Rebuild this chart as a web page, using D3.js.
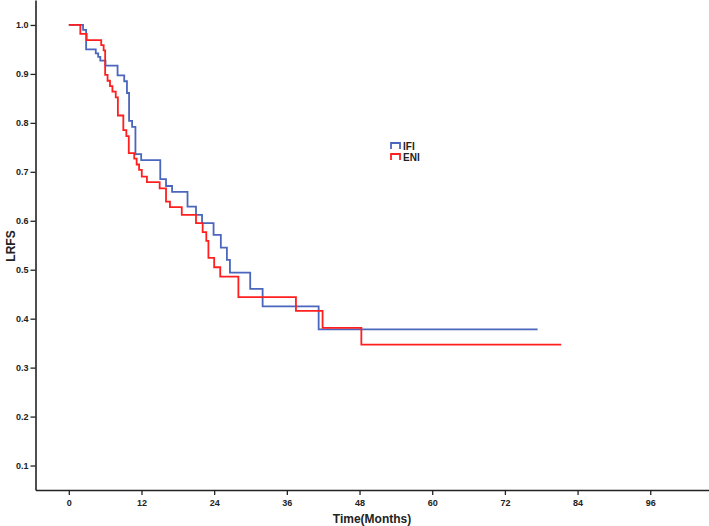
<!DOCTYPE html>
<html>
<head>
<meta charset="utf-8">
<script src="https://cdn.jsdelivr.net/npm/d3@7"></script>
<style>
  html, body { margin: 0; padding: 0; background: #fff; }
  svg { display: block; }
  text { font-family: "Liberation Sans", Arial, sans-serif; }
</style>
</head>
<body>
<svg id="chart" width="709" height="526"></svg>
<script>
// ---- Data ----
const seriesNames = ["IFI", "ENI"];
const ifiTimes = [0, 2.35, 2.86, 4.45, 4.85, 5.2, 6.05, 8.05, 9.15, 9.6, 9.95, 10.45, 11.0, 11.95, 15.1, 16.05, 17.05, 19.6, 21.0, 22.0, 23.9, 25.1, 26.1, 26.6, 29.95, 32.0, 41.25, 77.4];
const ifiSurv  = [1.0, 0.99, 0.95, 0.942, 0.935, 0.927, 0.917, 0.897, 0.885, 0.861, 0.804, 0.792, 0.736, 0.724, 0.685, 0.671, 0.659, 0.629, 0.612, 0.595, 0.571, 0.545, 0.520, 0.494, 0.461, 0.425, 0.378, 0.378];
const eniTimes = [0, 1.9, 2.95, 5.35, 5.75, 6.0, 6.4, 6.8, 7.2, 7.75, 8.1, 9.0, 9.5, 9.9, 10.8, 11.2, 11.6, 12.05, 12.9, 15.0, 16.05, 16.7, 18.65, 21.0, 22.1, 22.7, 23.05, 24.0, 25.0, 28.0, 37.5, 41.9, 48.3, 81.3];
const eniSurv  = [1.0, 0.982, 0.969, 0.959, 0.948, 0.898, 0.886, 0.875, 0.864, 0.852, 0.815, 0.785, 0.773, 0.738, 0.727, 0.715, 0.704, 0.690, 0.679, 0.666, 0.639, 0.628, 0.612, 0.595, 0.577, 0.559, 0.524, 0.505, 0.486, 0.444, 0.416, 0.381, 0.347, 0.347];
const xTicks = [0, 12, 24, 36, 48, 60, 72, 84, 96];
const yTicks = [0.1, 0.2, 0.3, 0.4, 0.5, 0.6, 0.7, 0.8, 0.9, 1.0];
const colors = ["#4a66bd", "#ff1f1f"];

// ---- Layout ----
const svg = d3.select("#chart");
const plotLeft = 35.5, plotRight = 709, plotTop = 0, plotBottom = 490;

const x = d3.scaleLinear().domain([-5.5, 105.7]).range([plotLeft, plotRight]);
const y = d3.scaleLinear().domain([0.05, 1.051]).range([plotBottom, plotTop]);

// Axes
const xAxis = d3.axisBottom(x).tickValues(xTicks).tickFormat(d3.format("d")).tickSize(5).tickSizeOuter(0);
const yAxis = d3.axisLeft(y).tickValues(yTicks).tickFormat(d3.format(".1f")).tickSize(5).tickSizeOuter(0);

const gx = svg.append("g").attr("transform", `translate(0,${plotBottom})`).call(xAxis);
const gy = svg.append("g").attr("transform", `translate(${plotLeft},0)`).call(yAxis);
[gx, gy].forEach(g => {
  g.select(".domain").attr("stroke", "#222").attr("stroke-width", 1.6);
  g.selectAll(".tick line").attr("stroke", "#222").attr("stroke-width", 1.3);
  g.selectAll(".tick text").attr("fill", "#222").style("font-size", "9px").style("font-weight", "bold");
});
gx.selectAll(".tick text").attr("dy", "0.9em");
gy.selectAll(".tick text").attr("x", -7);

// Axis titles
svg.append("text").attr("x", 372).attr("y", 523).attr("text-anchor", "middle")
  .style("font-size", "12px").style("font-weight", "bold").attr("fill", "#222").text("Time(Months)");
svg.append("text").attr("transform", `translate(15,246) rotate(-90)`).attr("text-anchor", "middle")
  .style("font-size", "12px").style("font-weight", "bold").attr("fill", "#222").text("LRFS");

// Curves
const line = d3.line().x(d => x(d[0])).y(d => y(d[1])).curve(d3.curveStepAfter);
const series = [
  { name: seriesNames[0], data: ifiTimes.map((t, i) => [t, ifiSurv[i]]), color: colors[0] },
  { name: seriesNames[1], data: eniTimes.map((t, i) => [t, eniSurv[i]]), color: colors[1] }
];
series.forEach(s => {
  svg.append("path").datum(s.data).attr("d", line)
    .attr("fill", "none").attr("stroke", s.color).attr("stroke-width", 1.8);
});

// Legend
const lg = svg.append("g");
series.forEach((s, i) => {
  const yy = 143 + i * 11;
  lg.append("path")
    .attr("d", `M391,${yy + 6} L391,${yy} L400,${yy} L400,${yy + 6}`)
    .attr("fill", "none").attr("stroke", s.color).attr("stroke-width", 1.8);
  lg.append("text").attr("x", 403).attr("y", yy + 7)
    .style("font-size", "10px").style("font-weight", "bold").attr("fill", "#222").text(s.name);
});
</script>
</body>
</html>
